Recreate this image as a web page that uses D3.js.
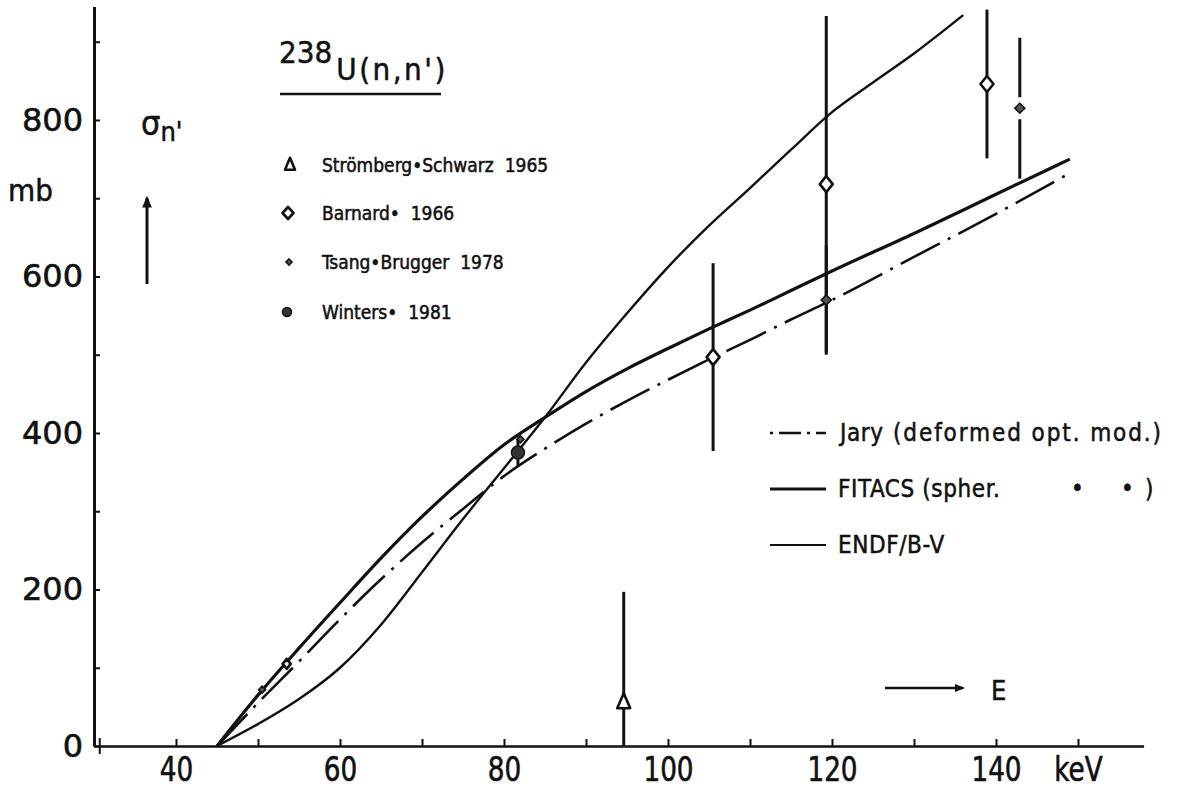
<!DOCTYPE html>
<html>
<head>
<meta charset="utf-8">
<script src="https://cdn.jsdelivr.net/npm/d3@7"></script>
<style>
  html, body { margin: 0; padding: 0; background: #fff; }
  svg { display: block; }
  .lett { font-family: "DejaVu Sans Condensed", "DejaVu Sans", sans-serif; font-stretch: condensed; fill: #111; stroke: #111; stroke-width: 0.5px; white-space: pre; }
  .ylab text { font-family: "DejaVu Sans", sans-serif; font-size: 32px; fill: #111; stroke: #111; stroke-width: 0.6px; }
  .xlab text { font-family: "DejaVu Sans Condensed", "DejaVu Sans", sans-serif; font-size: 34px; fill: #111; stroke: #111; stroke-width: 0.6px; }
</style>
</head>
<body>
<svg id="chart" width="1178" height="789"></svg>
<script>
// Inelastic scattering cross section of U-238 versus neutron energy

// Evaluated / calculated curves (keV, mb)
const jaryE    = [45, 50, 55, 60, 65, 70, 75, 80, 85, 90, 95, 100, 105, 110, 115, 120, 130, 140, 149];
const jaryS    = [0, 55, 108, 162, 213, 260, 303, 345, 380, 412, 441, 468, 494, 519, 545, 570, 625, 680, 732];

const fitacsE  = [45, 50, 55, 60, 65, 70, 75, 80, 85, 90, 95, 100, 105, 110, 115, 120, 130, 140, 149];
const fitacsS  = [0, 65, 125, 183, 240, 293, 341, 385, 420, 453, 482, 508, 533, 557, 582, 607, 655, 705, 750];

const endfE    = [45, 50, 55, 60, 65, 70, 75, 80, 85, 90, 95, 100, 105, 110, 115, 120, 125, 130, 136];
const endfS    = [0, 28, 60, 100, 155, 222, 290, 355, 420, 490, 553, 612, 665, 713, 762, 810, 848, 885, 934];

// Measurements (keV, mb, lower and upper bar ends)
const strombergE  = [94.6];
const strombergS  = [56];
const strombergLo = [0];
const strombergHi = [197];

const barnardE   = [53.5, 105.5, 119.3, 138.9];
const barnardS   = [105, 497, 718, 846];
const barnardErr = [0, 120, 215, 95];

const tsangE   = [50.5, 82, 119.3, 142.9];
const tsangS   = [72, 392, 570, 815];
const tsangErr = [0, 0, 70, 90];

const wintersE   = [81.7];
const wintersS   = [375];
const wintersErr = [18];

// Axis ticks
const keVTicks   = d3.range(40, 151, 10);
const sigmaTicks = d3.range(0, 901, 100);

const svg = d3.select("#chart");
const ink = "#111";

const x = d3.scaleLinear().domain([30, 158]).range([94, 1143.6]);
const y = d3.scaleLinear().domain([0, 945]).range([746, 6.5]);

// ---- axes ----
const yAxis = d3.axisLeft(y)
  .tickValues(sigmaTicks)
  .tickSizeInner(-6)
  .tickSizeOuter(0)
  .tickPadding(11)
  .tickFormat(d => d % 200 === 0 ? d : "");

const xAxis = d3.axisBottom(x)
  .tickValues(keVTicks)
  .tickSizeInner(-7)
  .tickSizeOuter(0)
  .tickPadding(11)
  .tickFormat(d => d === 150 ? "keV" : (d % 20 === 0 ? d : ""));

const gy = svg.append("g").attr("class", "ylab")
  .attr("transform", `translate(${x(30)},0)`)
  .call(yAxis);
gy.select(".domain").attr("stroke", ink).attr("stroke-width", 3);
gy.selectAll(".tick line").attr("stroke", ink).attr("stroke-width", 2);
gy.selectAll(".tick text").attr("fill", ink);

const gx = svg.append("g").attr("class", "xlab")
  .attr("transform", `translate(0,${y(0)})`)
  .call(xAxis);
gx.select(".domain").attr("stroke", ink).attr("stroke-width", 2.5);
gx.selectAll(".tick line").attr("stroke", ink).attr("stroke-width", 2);
// narrow lettering under the energy axis
gx.selectAll(".tick text").attr("fill", ink).attr("transform", "scale(0.86,1)");

// small cross mark at the origin
svg.append("line")
  .attr("x1", x(30.7)).attr("x2", x(30.7))
  .attr("y1", y(0) - 8).attr("y2", y(0) + 8)
  .attr("stroke", ink).attr("stroke-width", 2);

// ---- curves ----
const line = d3.line()
  .x(d => x(d[0]))
  .y(d => y(d[1]))
  .curve(d3.curveMonotoneX);

svg.append("path")
  .datum(d3.zip(jaryE, jaryS))
  .attr("d", line)
  .attr("fill", "none")
  .attr("stroke", ink)
  .attr("stroke-width", 2.6)
  .attr("stroke-dasharray", "44,9,3,9");

svg.append("path")
  .datum(d3.zip(fitacsE, fitacsS))
  .attr("d", line)
  .attr("fill", "none")
  .attr("stroke", ink)
  .attr("stroke-width", 3.2);

svg.append("path")
  .datum(d3.zip(endfE, endfS))
  .attr("d", line)
  .attr("fill", "none")
  .attr("stroke", ink)
  .attr("stroke-width", 2.4);

// ---- error bars ----
function bar(e, lo, hi) {
  svg.append("line")
    .attr("x1", x(e)).attr("x2", x(e))
    .attr("y1", y(lo)).attr("y2", y(hi))
    .attr("stroke", ink).attr("stroke-width", 3);
}
strombergE.forEach((e, i) => bar(e, strombergLo[i], strombergHi[i]));
barnardE.forEach((e, i) => { if (barnardErr[i] > 0) bar(e, barnardS[i] - barnardErr[i], barnardS[i] + barnardErr[i]); });
tsangE.forEach((e, i) => { if (tsangErr[i] > 0) bar(e, tsangS[i] - tsangErr[i], tsangS[i] + tsangErr[i]); });
wintersE.forEach((e, i) => bar(e, wintersS[i] - wintersErr[i], wintersS[i] + wintersErr[i]));

// ---- symbols ----
const diamondPath = (w, h) => `M0,${-h}L${w},0L0,${h}L${-w},0Z`;
const trianglePath = (w, h) => `M0,${-h * 0.6}L${w},${h * 0.4}L${-w},${h * 0.4}Z`;

function drawTriangle(px, py, w, h) {
  svg.append("path").attr("transform", `translate(${px},${py})`)
    .attr("d", trianglePath(w, h))
    .attr("fill", "#fff").attr("stroke", ink).attr("stroke-width", 2.6)
    .attr("stroke-linejoin", "round");
}
function drawOpenDiamond(px, py, w, h) {
  svg.append("path").attr("transform", `translate(${px},${py})`)
    .attr("d", diamondPath(w, h))
    .attr("fill", "#fff").attr("stroke", ink).attr("stroke-width", 2.6)
    .attr("stroke-linejoin", "round");
}
function drawSmallDiamond(px, py, w, halo) {
  if (halo) {
    svg.append("rect").attr("x", px - 6).attr("y", py - halo)
      .attr("width", 12).attr("height", 2 * halo).attr("fill", "#fff");
  }
  svg.append("path").attr("transform", `translate(${px},${py})`)
    .attr("d", diamondPath(w, w))
    .attr("fill", "#555").attr("stroke", ink).attr("stroke-width", 1.6);
}
function drawDot(px, py, r) {
  svg.append("circle").attr("cx", px).attr("cy", py).attr("r", r)
    .attr("fill", "#333").attr("stroke", ink).attr("stroke-width", 1.5);
}

strombergE.forEach((e, i) => drawTriangle(x(e), y(strombergS[i]), 6.5, 15));
barnardE.forEach((e, i) => {
  const small = barnardErr[i] === 0;
  drawOpenDiamond(x(e), y(barnardS[i]), small ? 4 : 6.5, small ? 5 : 8);
});
tsangE.forEach((e, i) => drawSmallDiamond(x(e), y(tsangS[i]), tsangErr[i] > 60 ? 5 : 3.5, tsangE[i] > 140 ? 11 : 0));
wintersE.forEach((e, i) => drawDot(x(e), y(wintersS[i]), 6.5));

// ---- title ----
const title = svg.append("text").attr("class", "lett").attr("x", 279).attr("y", 63);
title.append("tspan").attr("font-size", 31).text("238");
title.append("tspan").attr("font-size", 31).attr("dy", 17).attr("dx", 4)
  .attr("letter-spacing", 2.5).text("U(n,n')");
svg.append("line")
  .attr("x1", 280).attr("x2", 441).attr("y1", 94).attr("y2", 94)
  .attr("stroke", ink).attr("stroke-width", 2.4);

// ---- symbol legend ----
const symLegend = [
  { label: "Strömberg\u2022Schwarz  1965", y: 165 },
  { label: "Barnard\u2022  1966", y: 213 },
  { label: "Tsang\u2022Brugger  1978", y: 262 },
  { label: "Winters\u2022  1981", y: 312 }
];
drawTriangle(290, 165, 5, 12);
drawOpenDiamond(288, 213, 5.5, 6);
drawSmallDiamond(289, 262, 3, 0);
drawDot(287, 312, 4.5);
svg.selectAll(".symlab").data(symLegend).join("text")
  .attr("class", "lett symlab")
  .attr("x", 322).attr("y", d => d.y + 7)
  .attr("font-size", 19)
  .text(d => d.label);

// ---- curve legend ----
const lineLegend = [
  { parts: [["Jary", 840, 0.6], ["(deformed opt. mod.)", 893, 1.9]], y: 433, dash: "3,6,22,6", w: 2.4 },
  { parts: [["FITACS (spher.", 838, 0.6], ["\u2022", 1071, 0], ["\u2022", 1121, 0], [")", 1145, 0]], y: 489, dash: null, w: 3.2 },
  { parts: [["ENDF/B-V", 838, 0.6]], y: 545, dash: null, w: 2.2 }
];
lineLegend.forEach(d => {
  const l = svg.append("line")
    .attr("x1", 770).attr("x2", 826).attr("y1", d.y).attr("y2", d.y)
    .attr("stroke", ink).attr("stroke-width", d.w);
  if (d.dash) l.attr("stroke-dasharray", d.dash);
  d.parts.forEach(([txt, px, ls]) => {
    svg.append("text").attr("class", "lett")
      .attr("x", px).attr("y", d.y + 8)
      .attr("font-size", 24)
      .attr("letter-spacing", ls)
      .text(txt);
  });
});

// ---- axis quantity and unit ----
const sig = svg.append("text").attr("class", "lett").attr("x", 141).attr("y", 135);
sig.append("tspan").attr("font-size", 34).text("\u03c3");
sig.append("tspan").attr("font-size", 27).attr("dy", 6).text("n'");
svg.append("text").attr("class", "lett").attr("x", 8).attr("y", 201)
  .attr("font-size", 31).text("mb");

// arrows
svg.append("defs").append("marker")
  .attr("id", "head").attr("viewBox", "0 0 10 10")
  .attr("refX", 8).attr("refY", 5)
  .attr("markerWidth", 4).attr("markerHeight", 4)
  .attr("orient", "auto")
  .append("path").attr("d", "M0,1L10,5L0,9Z").attr("fill", ink);

svg.append("line")
  .attr("x1", 147).attr("x2", 147).attr("y1", 284).attr("y2", 198)
  .attr("stroke", ink).attr("stroke-width", 3)
  .attr("marker-end", "url(#head)");
svg.append("line")
  .attr("x1", 885).attr("x2", 963).attr("y1", 688).attr("y2", 688)
  .attr("stroke", ink).attr("stroke-width", 2.6)
  .attr("marker-end", "url(#head)");
svg.append("text").attr("class", "lett").attr("x", 991).attr("y", 700)
  .attr("font-size", 27).text("E");
</script>
</body>
</html>
